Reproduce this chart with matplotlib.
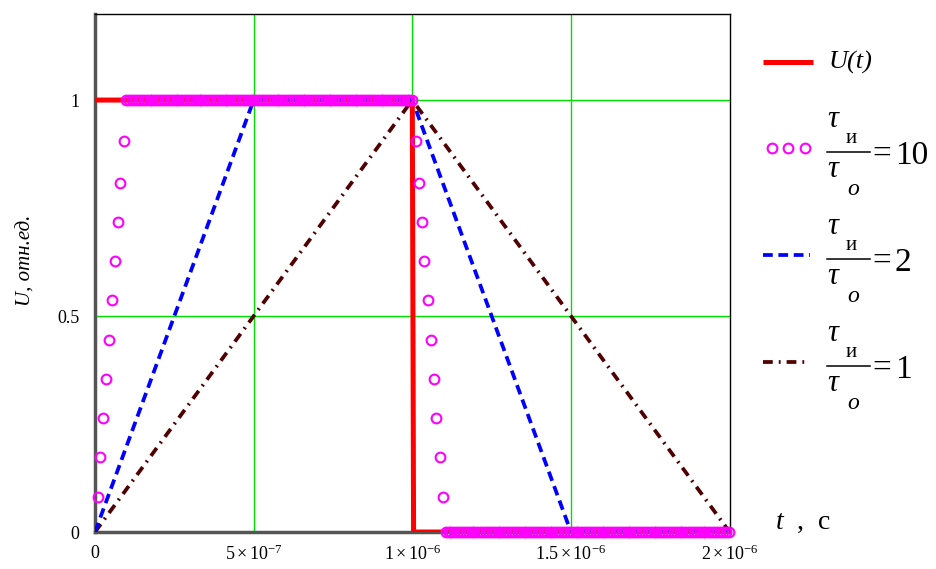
"""
    plot.py
    Trapezoid pulses U(t) for different rise-time ratios
"""

import numpy as np
import matplotlib.pyplot as plt
from matplotlib.lines import Line2D

plt.rcParams['font.family'] = ['Liberation Serif', 'DejaVu Serif']
plt.rcParams['mathtext.fontset'] = 'custom'
plt.rcParams['mathtext.rm'] = 'Liberation Serif'
plt.rcParams['mathtext.it'] = 'Liberation Serif:italic'

""" ______________________________ DATA ______________________________ """

# ideal pulse U(t)
u_t = [0.0, 1.0e-6, 1.004e-6, 2.0e-6]
u_v = [1.0, 1.0, 0.0, 0.0]

# tau_i / tau_o = 10 (sampled points)
p10_rise_t = [0.008e-6, 0.017e-6, 0.026e-6, 0.035e-6, 0.044e-6,
              0.053e-6, 0.062e-6, 0.071e-6, 0.080e-6, 0.090e-6]
p10_rise_v = [0.082, 0.173, 0.264, 0.355, 0.445, 0.536, 0.627, 0.718, 0.809, 0.906]
p10_fall_t = [1.011e-6, 1.020e-6, 1.029e-6, 1.038e-6, 1.048e-6,
              1.058e-6, 1.067e-6, 1.076e-6, 1.086e-6, 1.096e-6]
p10_fall_v = [0.906, 0.809, 0.718, 0.627, 0.536, 0.445, 0.355, 0.264, 0.173, 0.082]
p10_top = [0.099e-6, 1.001e-6, 1.0]      # start, end, level
p10_bottom = [1.105e-6, 2.0e-6, 0.0]
p10_step = 9.1e-9

# tau_i / tau_o = 2
p2_t = [0.0, 0.5e-6, 1.0e-6, 1.5e-6, 2.0e-6]
p2_v = [0.0, 1.0, 1.0, 0.0, 0.0]

# tau_i / tau_o = 1
p1_t = [0.0, 1.0e-6, 2.0e-6]
p1_v = [0.0, 1.0, 0.0]

ratios = ['10', '2', '1']

x_ticks = [0, 5e-7, 1e-6, 1.5e-6, 2e-6]
x_labels = ['0', r'$5\times10^{-7}$', r'$1\times10^{-6}$', r'$1.5\times10^{-6}$', r'$2\times10^{-6}$']
y_ticks = [0, 0.5, 1]
y_labels = ['0', '0.5', '1']

""" ______________________________ PLOT ______________________________ """

W, H = 936, 569
fig = plt.figure(figsize=(W / 100, H / 100), dpi=100)
ax = fig.add_axes([0.1015, 0.065, 0.678, 0.911])

fx = lambda x: x / W
fy = lambda y: 1 - y / H

top_t = np.arange(p10_top[0], p10_top[1], p10_step)
bot_t = np.arange(p10_bottom[0], p10_bottom[1] + p10_step / 2, p10_step)
p10_t = list(p10_rise_t) + list(top_t) + list(p10_fall_t) + list(bot_t)
p10_v = list(p10_rise_v) + [p10_top[2]] * len(top_t) + list(p10_fall_v) + [p10_bottom[2]] * len(bot_t)

for g in [5e-7, 1e-6, 1.5e-6]:
    ax.axvline(g, color='#00e000', lw=1.0, zorder=1)
for g in [0.5, 1.0]:
    ax.axhline(g, color='#00e000', lw=1.0, zorder=1)

st_u = dict(color='#ff0000', lw=3.6, solid_capstyle='butt')
st_1 = dict(color='#500000', lw=2.7, dashes=(2.6, 1.6, 0.5, 1.6))
st_2 = dict(color='#0000ff', lw=2.7, dashes=(2.6, 1.5))
st_10 = dict(ls='none', marker='o', ms=7, mfc='none', mec='#ff00ff', mew=1.5)

ax.plot(u_t, u_v, zorder=3, solid_joinstyle='miter', **st_u)
ax.plot(p1_t, p1_v, zorder=4, **st_1)
ax.plot(p2_t, p2_v, zorder=5, **st_2)
ax.plot(p10_t, p10_v, zorder=6, clip_on=False, **st_10)

ax.set_xlim(0, 2e-6)
ax.set_ylim(0, 1.2)
ax.set_xticks(x_ticks)
ax.set_xticklabels(x_labels, fontsize=13)
ax.set_yticks(y_ticks)
ax.set_yticklabels(y_labels, fontsize=13)
ax.tick_params(axis='x', length=0, pad=9)
ax.tick_params(axis='y', length=0, pad=11)

for side in ['top', 'right']:
    ax.spines[side].set_linewidth(1.0)
    ax.spines[side].set_color('#000000')
for side in ['left', 'bottom']:
    ax.spines[side].set_linewidth(2.5)
    ax.spines[side].set_color('#555555')

ax.set_ylabel('U, отн.ед.', fontsize=15, style='italic')
ax.yaxis.set_label_coords(-0.093, 0.525)
fig.text(fx(775), fy(529), r'$t$  ,  c', fontsize=20)

""" ____________________________ LEGEND ______________________________ """

fig.add_artist(Line2D([fx(763), fx(813)], [fy(62), fy(62)], transform=fig.transFigure, **st_u))
fig.text(fx(829), fy(62), 'U(t)', fontsize=19, style='italic', va='center')

key_y = [148, 255, 362]
fig.add_artist(Line2D([fx(772), fx(788), fx(805)], [fy(148)] * 3, transform=fig.transFigure, **st_10))
fig.add_artist(Line2D([fx(763), fx(810)], [fy(255)] * 2, transform=fig.transFigure, **st_2))
fig.add_artist(Line2D([fx(763), fx(808)], [fy(362)] * 2, transform=fig.transFigure, **st_1))

for r, ky in zip(ratios, key_y):
    bar = ky + 4
    fig.add_artist(Line2D([fx(827), fx(870)], [fy(bar)] * 2, transform=fig.transFigure,
                          color='black', lw=1.1))
    fig.text(fx(827), fy(bar - 25), 'τ', fontsize=22, style='italic', va='baseline')
    fig.text(fx(846), fy(bar - 9), 'и', fontsize=15, va='baseline')
    fig.text(fx(827), fy(bar + 25), 'τ', fontsize=22, style='italic', va='baseline')
    fig.text(fx(847), fy(bar + 43), 'о', fontsize=17, style='italic', va='baseline')
    fig.text(fx(872), fy(bar + 11), '=', fontsize=24, va='baseline')
    fig.text(fx(895), fy(bar + 12), r, fontsize=24, va='baseline')

fig.savefig('out.png', dpi=100)
